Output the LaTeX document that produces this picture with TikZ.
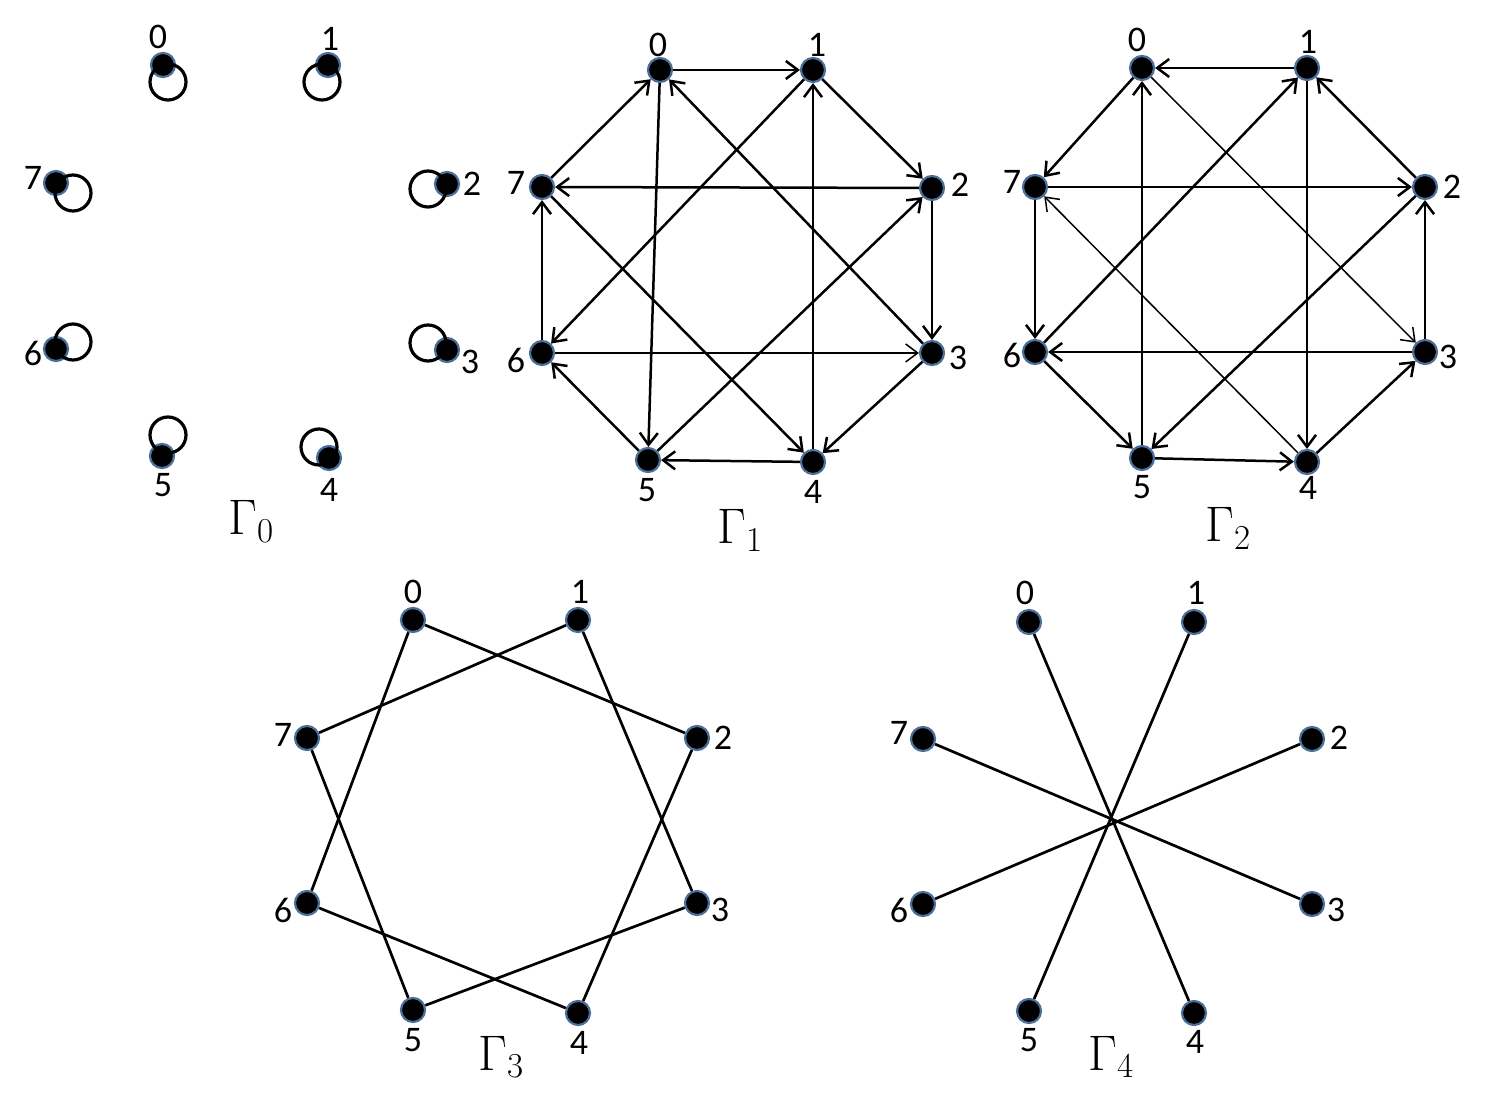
\RequirePackage{fix-cm}
\documentclass[tikz,border=0pt]{standalone}
\usepackage{fontspec}
\setmainfont{Carlito}
\usetikzlibrary{arrows.meta}
\definecolor{ringblue}{HTML}{4A6F9A}
\tikzset{
  vtx/.style={circle, fill=black, draw=ringblue, line width=1.1pt, minimum size=12pt, inner sep=0pt},
  num/.style={inner sep=0pt, font=\fontsize{18}{20}\selectfont},
  glab/.style={inner sep=0pt, anchor=base west, font=\fontsize{25}{28}\selectfont},
  edge/.style={line width=1.35pt},
  arc/.style={line width=1.25pt, -{Straight Barb[length=6pt,width=9pt]}},
  thinarc/.style={arc, line width=0.75pt},
  loopc/.style={line width=1.6pt},
}
\begin{document}
\begin{tikzpicture}[x=0.5pt,y=-0.5pt]
\useasboundingbox (0,0) rectangle (1486,1095);

% ---------- Gamma 0 ----------
\foreach \i/\x/\y in {0/163/65,1/328/65,2/447/184,3/447/350,4/329/458,5/162/456,6/56/349,7/56/183}
  \node[vtx] (a\i) at (\x,\y) {};
\foreach \i/\dx/\dy in {0/5/17,1/-6/17,2/-19/5,3/-19/-7,4/-10/-11,5/6/-21,6/17/-7,7/17/10}
  \draw[loopc] (a\i.center) ++(\dx,\dy) circle[radius=9pt];
\foreach \i/\x/\y in {0/158/37,1/330/39,2/472/184,3/470/362,4/329/490,5/163/485,6/33/353,7/33/178}
  \node[num] (la\i) at (\x,\y) {\i};
\node[glab] (ga) at (228,535) {$\Gamma_0$};

% ---------- Gamma 1 ----------
\foreach \i/\x/\y in {0/660/70,1/813/70,2/932/188,3/932/353,4/813/462,5/648/460,6/542/353,7/542/187}
  \node[vtx] (b\i) at (\x,\y) {};
\foreach \i/\x/\y in {0/658/45,1/817/45,2/960/185,3/958/358,4/813/492,5/647/490,6/516/360,7/516/183}
  \node[num] (lb\i) at (\x,\y) {\i};
\foreach \s/\t in {0/1,1/2,2/3,3/4,4/5,5/6,6/7,7/0,0/5,1/6,2/7,3/0,4/1,5/2,7/4}
  \draw[arc] (b\s) -- (b\t);
\draw[thinarc] (b6) -- (b3);
\node[glab] (gb) at (717,544) {$\Gamma_1$};

% ---------- Gamma 2 ----------
\foreach \i/\x/\y in {0/1142/68,1/1307/68,2/1425/187,3/1425/352,4/1307/462,5/1142/458,6/1035/352,7/1035/187}
  \node[vtx] (c\i) at (\x,\y) {};
\foreach \i/\x/\y in {0/1137/40,1/1308/42,2/1452/187,3/1448/357,4/1308/488,5/1142/487,6/1012/355,7/1012/182}
  \node[num] (lc\i) at (\x,\y) {\i};
\foreach \s/\t in {1/0,2/1,3/2,4/3,5/4,6/5,7/6,0/7,1/4,2/5,3/6,5/0,6/1,7/2}
  \draw[arc] (c\s) -- (c\t);
\draw[thinarc] (c0) -- (c3);
\draw[thinarc] (c4) -- (c7);
\node[glab] (gc) at (1205,542) {$\Gamma_2$};

% ---------- Gamma 3 ----------
\foreach \i/\x/\y in {0/413/620,1/578/620,2/697/738,3/697/903,4/578/1013,5/413/1010,6/307/903,7/307/738}
  \node[vtx] (d\i) at (\x,\y) {};
\foreach \i/\x/\y in {0/413/592,1/580/592,2/723/738,3/720/910,4/579/1043,5/413/1040,6/283/910,7/283/735}
  \node[num] (ld\i) at (\x,\y) {\i};
\foreach \s/\t in {0/2,1/3,2/4,3/5,4/6,5/7,6/0,7/1}
  \draw[edge] (d\s) -- (d\t);
\node[glab] (gd) at (478,1070) {$\Gamma_3$};

% ---------- Gamma 4 ----------
\foreach \i/\x/\y in {0/1029/622,1/1194/622,2/1312/739,3/1312/904,4/1194/1013,5/1029/1011,6/923/904,7/923/739}
  \node[vtx] (e\i) at (\x,\y) {};
\foreach \i/\x/\y in {0/1025/593,1/1196/593,2/1339/738,3/1336/910,4/1195/1042,5/1029/1040,6/899/910,7/899/733}
  \node[num] (le\i) at (\x,\y) {\i};
\foreach \s/\t in {0/4,1/5,2/6,3/7}
  \draw[edge] (e\s) -- (e\t);
\node[glab] (ge) at (1088,1070) {$\Gamma_4$};
\end{tikzpicture}
\end{document}
